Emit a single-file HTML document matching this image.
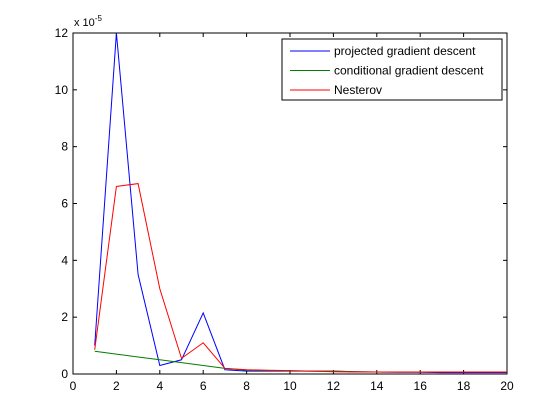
<!DOCTYPE html>
<html><head><meta charset="utf-8"><style>
body{margin:0;background:#fff}
svg{display:block;font-family:"Liberation Sans",Arial,sans-serif}
</style></head><body>
<svg id="chart" width="560" height="420" viewBox="0 0 560 420">
<rect x="0" y="0" width="560" height="420" fill="#fff"/>
<g id="plot"></g>
</svg>
<script>
const xs = [1,2,3,4,5,6,7,8,9,10,11,12,13,14,15,16,17,18,19,20];
const projected = [1.0,12.0,3.5,0.3,0.5,2.15,0.15,0.1,0.1,0.1,0.1,0.1,0.08,0.07,0.06,0.06,0.05,0.05,0.05,0.05];
const conditional = [0.8,0.7,0.6,0.5,0.4,0.3,0.2,0.13,0.12,0.11,0.1,0.1,0.08,0.07,0.07,0.07,0.07,0.07,0.07,0.07];
const nesterov = [0.85,6.6,6.7,3.0,0.55,1.1,0.2,0.15,0.13,0.12,0.1,0.08,0.07,0.07,0.07,0.07,0.07,0.07,0.07,0.07];
const xTicks = [0,2,4,6,8,10,12,14,16,18,20];
const yTicks = [0,2,4,6,8,10,12];
const seriesNames = ["projected gradient descent","conditional gradient descent","Nesterov"];
const seriesColors = ["#0000ff","#007f00","#ff0000"];

const L=73,R=507,T=33,B=374;
const sx=v=>L+(v-0)/(20-0)*(R-L);
const sy=v=>B-(v-0)/(12-0)*(B-T);
const NS="http://www.w3.org/2000/svg";
const g=document.getElementById('plot');
function mk(tag,attrs){const e=document.createElementNS(NS,tag);for(const k in attrs)e.setAttribute(k,attrs[k]);g.appendChild(e);return e;}

const frame=mk('rect',{x:L,y:T,width:R-L,height:B-T,fill:'none',stroke:'#000','stroke-width':1});



xTicks.forEach(t=>{
  const x=sx(t);
  const a=mk('line',{x1:x,x2:x,y1:B,y2:B-4,stroke:'#000'});
  
  
  const b=mk('line',{x1:x,x2:x,y1:T,y2:T+4,stroke:'#000'});
  
  
  const lb=mk('text',{x:x,y:B+16,'text-anchor':'middle','font-size':12});
  lb.textContent=t;
  
  
});
yTicks.forEach(t=>{
  const y=sy(t);
  const a=mk('line',{x1:L,x2:L+4,y1:y,y2:y,stroke:'#000'});
  
  
  const b=mk('line',{x1:R,x2:R-4,y1:y,y2:y,stroke:'#000'});
  
  
  const lb=mk('text',{x:L-5,y:y+4,'text-anchor':'end','font-size':12});
  lb.textContent=t;
  
  
});
const ex=mk('text',{x:74,y:26,'font-size':11});
ex.innerHTML='x 10<tspan dy="-5" font-size="8">-5</tspan>';



[projected,conditional,nesterov].forEach((s,i)=>{
  const p=mk('polyline',{points:s.map((v,j)=>sx(xs[j])+','+sy(v)).join(' '),fill:'none',stroke:seriesColors[i],'stroke-width':1});
  
  
});

const lg=mk('rect',{x:282,y:39,width:220,height:61,fill:'#fff',stroke:'#000'});


seriesNames.forEach((n,i)=>{
  const y=51+i*19.5;
  const l=mk('line',{x1:290,x2:330,y1:y,y2:y,stroke:seriesColors[i]});
  
  
  const t=mk('text',{x:334,y:y+4,'font-size':12});
  t.textContent=n;
  
  
});
</script>
</body></html>
